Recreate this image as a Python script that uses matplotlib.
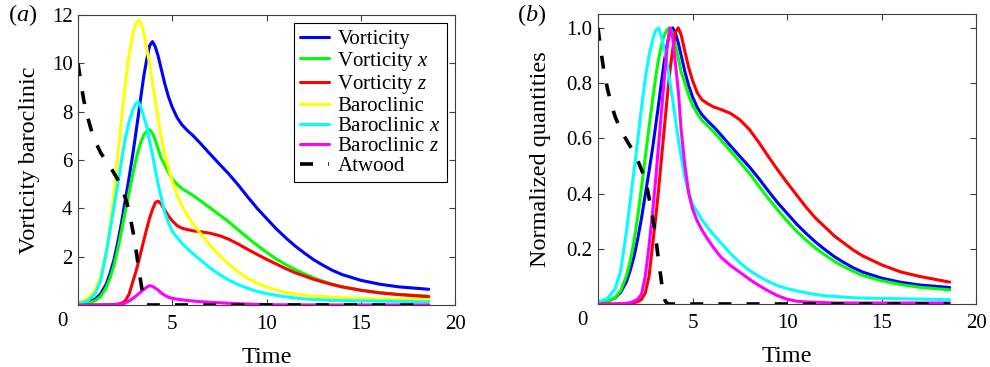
import numpy as np
import matplotlib

matplotlib.use("Agg")
import matplotlib.pyplot as plt

plt.rcParams["font.family"] = ["Liberation Serif", "DejaVu Serif"]
plt.rcParams["mathtext.fontset"] = "custom"
plt.rcParams["mathtext.rm"] = "Liberation Serif"
plt.rcParams["mathtext.it"] = "Liberation Serif:italic"

# sample times shared by the six coloured curves
time = [0.1, 0.5, 0.9, 1.2, 1.5, 1.7, 1.9, 2.1, 2.3, 2.5,
        2.7, 2.9, 3.05, 3.2, 3.35, 3.5, 3.65, 3.8, 3.95, 4.1,
        4.25, 4.4, 4.6, 4.8, 5.0, 5.25, 5.5, 5.8, 6.1, 6.5,
        7.0, 7.5, 8.0, 8.5, 9.0, 9.5, 10.0, 10.5, 11.0, 11.5,
        12.0, 12.5, 13.0, 13.5, 14.0, 15.0, 16.0, 17.0, 18.6]

vorticity = [0.05, 0.10, 0.24, 0.46, 0.87, 1.31, 1.85, 2.56, 3.38, 4.31,
             5.23, 6.21, 7.03, 7.85, 8.72, 9.54, 10.19, 10.74, 10.9, 10.68,
             10.30, 9.81, 9.16, 8.61, 8.18, 7.76, 7.47, 7.22, 7.01, 6.68,
             6.25, 5.83, 5.42, 4.96, 4.47, 4.00, 3.58, 3.16, 2.79, 2.45,
             2.15, 1.87, 1.64, 1.43, 1.26, 1.02, 0.86, 0.75, 0.65]
vorticity_x = [0.04, 0.07, 0.17, 0.35, 0.73, 1.12, 1.63, 2.28, 3.05, 3.84,
               4.64, 5.40, 5.95, 6.42, 6.78, 7.05, 7.20, 7.25, 7.11, 6.82,
               6.45, 6.09, 5.80, 5.47, 5.22, 5.00, 4.82, 4.68, 4.53, 4.31,
               4.02, 3.73, 3.44, 3.10, 2.78, 2.47, 2.18, 1.91, 1.68, 1.47,
               1.29, 1.12, 0.98, 0.86, 0.75, 0.61, 0.51, 0.44, 0.37]
vorticity_z = [0.0, 0.0, 0.0, 0.004, 0.009, 0.013, 0.02, 0.035, 0.07, 0.17,
               0.43, 0.95, 1.33, 1.76, 2.24, 2.71, 3.18, 3.61, 3.96, 4.24,
               4.3, 4.19, 3.93, 3.68, 3.48, 3.29, 3.18, 3.12, 3.07, 3.03,
               2.97, 2.87, 2.72, 2.52, 2.30, 2.09, 1.89, 1.70, 1.51, 1.34,
               1.20, 1.06, 0.95, 0.84, 0.75, 0.61, 0.50, 0.43, 0.34]
baroclinic = [0.14, 0.26, 0.59, 1.18, 2.24, 3.30, 4.60, 6.14, 7.67, 9.09,
              10.33, 11.21, 11.62, 11.8, 11.65, 11.2, 10.6, 9.95, 9.2, 8.45,
              7.7, 7.0, 6.25, 5.65, 5.13, 4.58, 4.12, 3.7, 3.35, 2.95,
              2.48, 2.05, 1.68, 1.36, 1.1, 0.9, 0.74, 0.62, 0.53, 0.46,
              0.41, 0.37, 0.34, 0.32, 0.30, 0.27, 0.25, 0.24, 0.22]
baroclinic_x = [0.08, 0.17, 0.46, 1.01, 2.18, 3.11, 4.03, 4.96, 5.96, 6.85,
                7.56, 8.06, 8.32, 8.4, 8.15, 7.77, 7.35, 6.76, 6.22, 5.59,
                5.00, 4.49, 3.82, 3.40, 3.04, 2.80, 2.56, 2.33, 2.12, 1.86,
                1.54, 1.26, 1.03, 0.84, 0.69, 0.56, 0.47, 0.40, 0.34, 0.29,
                0.25, 0.23, 0.21, 0.19, 0.18, 0.17, 0.16, 0.15, 0.13]
baroclinic_z = [0.0, 0.0, 0.0, 0.0, 0.002, 0.004, 0.008, 0.014, 0.028, 0.08,
                0.168, 0.272, 0.36, 0.456, 0.552, 0.648, 0.74, 0.8, 0.772, 0.696,
                0.616, 0.504, 0.4, 0.32, 0.276, 0.24, 0.214, 0.188, 0.164, 0.136,
                0.112, 0.092, 0.072, 0.054, 0.038, 0.024, 0.014, 0.008, 0.006, 0.005,
                0.004, 0.003, 0.003, 0.003, 0.003, 0.003, 0.003, 0.003, 0.003]

atwood_time = [0.0, 0.15, 0.3, 0.5, 0.7, 0.9, 1.2, 1.5, 1.8, 2.1, 2.4,
               2.6, 2.8, 3.0, 3.2, 3.4, 3.55, 3.65, 3.75, 3.9, 18.6]
atwood = [10.0, 9.2, 8.5, 7.8, 7.25, 6.8, 6.3, 5.95, 5.6, 5.2, 4.7,
          4.2, 3.5, 2.7, 1.6, 0.6, 0.12, 0.03, 0.0, 0.0, 0.0]

series = [
    ("Vorticity", vorticity, "#0000ff"),
    (r"Vorticity $x$", vorticity_x, "#00ff00"),
    (r"Vorticity $z$", vorticity_z, "#ff0000"),
    ("Baroclinic", baroclinic, "#ffff00"),
    (r"Baroclinic $x$", baroclinic_x, "#00ffff"),
    (r"Baroclinic $z$", baroclinic_z, "#ff00ff"),
]
# the total baroclinic term is not drawn in the normalized panel
normalized_skip = {"Baroclinic"}

fig = plt.figure(figsize=(9.9, 3.67), dpi=100)
ax_a = fig.add_axes([0.0788, 0.169, 0.381, 0.790])
ax_b = fig.add_axes([0.604, 0.1717, 0.382, 0.790])


def style_axis(ax):
    ax.set_xlim(0, 20)
    ax.set_xticks([0, 5, 10, 15, 20])
    ax.set_xticklabels(["", "5", "10", "15", "20"])
    ax.tick_params(direction="in", top=True, right=True, length=4,
                   width=0.8, color="0.25", labelsize=15)
    ax.tick_params(axis="x", pad=7)
    ax.tick_params(axis="y", pad=4)
    for spine in ax.spines.values():
        spine.set_linewidth(0.8)
        spine.set_color("0.25")
    # the shared "0" sits at the lower-left corner
    ax.annotate("0", xy=(0, 0), xycoords="axes fraction", xytext=(-11, -12),
                textcoords="offset points", ha="center", va="center", fontsize=15)
    ax.set_xlabel("Time", fontsize=17.5)
    ax.xaxis.set_label_coords(0.5, -0.145)


line_kw = dict(linewidth=2.2, solid_joinstyle="round", solid_capstyle="round")
dash_kw = dict(color="black", linewidth=2.6, dashes=(3.6, 4.2))

# (a) raw values
for label, values, color in series:
    ax_a.plot(time, values, color=color, label=label, **line_kw)
ax_a.plot(atwood_time, atwood, label="Atwood", **dash_kw)
style_axis(ax_a)
ax_a.set_ylim(0, 12)
ax_a.set_yticks([0, 2, 4, 6, 8, 10, 12])
ax_a.set_yticklabels(["", "2", "4", "6", "8", "10", "12"])
ax_a.set_ylabel("Vorticity baroclinic", fontsize=17.5)
ax_a.yaxis.set_label_coords(-0.10, 0.5)
legend = ax_a.legend(loc="upper right", fontsize=15, handlelength=1.4,
                     handletextpad=0.4, labelspacing=0.02, borderpad=0.3,
                     borderaxespad=0.4, fancybox=False, framealpha=1)
legend.get_frame().set_edgecolor("black")
legend.get_frame().set_linewidth(0.8)

# (b) each quantity divided by its own maximum
for label, values, color in series:
    if label in normalized_skip:
        continue
    arr = np.asarray(values)
    ax_b.plot(time, arr / arr.max(), color=color, **line_kw)
atwood_arr = np.asarray(atwood)
ax_b.plot(atwood_time, atwood_arr / atwood_arr.max(), **dash_kw)
style_axis(ax_b)
ax_b.set_ylim(0, 1.05)
ax_b.set_yticks([0, 0.2, 0.4, 0.6, 0.8, 1.0])
ax_b.set_yticklabels(["", "0.2", "0.4", "0.6", "0.8", "1.0"])
ax_b.set_ylabel("Normalized quantities", fontsize=17.5)
ax_b.yaxis.set_label_coords(-0.124, 0.5)

fig.text(0.008, 0.959, r"$(a)$", fontsize=17.5, ha="left", va="center")
fig.text(0.522, 0.959, r"$(b)$", fontsize=17.5, ha="left", va="center")

fig.savefig("out.png", dpi=100)
